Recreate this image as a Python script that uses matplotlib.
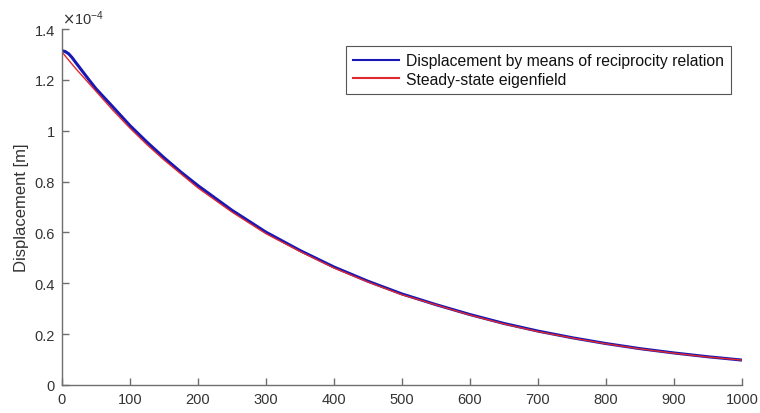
import matplotlib.pyplot as plt
from matplotlib.ticker import FuncFormatter

plt.rcParams['font.family'] = ['Liberation Sans', 'DejaVu Sans']

# distance along the line
x = [0, 5, 10, 15, 20, 30, 40, 50, 75, 100, 125, 150, 175, 200, 250, 300, 350,
     400, 450, 500, 550, 600, 650, 700, 750, 800, 850, 900, 950, 1000]

# displacement [1e-4 m], reciprocity relation
u_recip = [1.315, 1.311, 1.302, 1.287, 1.269, 1.234, 1.199, 1.165, 1.093, 1.02,
           0.955, 0.894, 0.837, 0.784, 0.687, 0.601, 0.529, 0.464, 0.408, 0.358,
           0.316, 0.277, 0.242, 0.212, 0.186, 0.163, 0.143, 0.126, 0.111, 0.098]

# displacement [1e-4 m], steady-state eigenfield
u_eigen = [1.31, 1.293, 1.277, 1.261, 1.245, 1.215, 1.185, 1.155, 1.08, 1.01,
           0.945, 0.885, 0.83, 0.775, 0.68, 0.595, 0.525, 0.46, 0.405, 0.355,
           0.315, 0.275, 0.24, 0.21, 0.185, 0.162, 0.142, 0.125, 0.11, 0.098]

scale = 1e-4
x_ticks = list(range(0, 1001, 100))
y_ticks = [0, 0.2, 0.4, 0.6, 0.8, 1.0, 1.2, 1.4]

axcol = '#6e6e6e'
txtcol = '#333333'

fig = plt.figure(figsize=(7.6, 4.14), dpi=100)
ax = fig.add_axes([62/760, 28/414, 680/760, 356/414])

ax.plot(x, [v*scale for v in u_recip], color='#1818b4', lw=2.2,
        label='Displacement by means of reciprocity relation')
ax.plot(x, [v*scale for v in u_eigen], color='#e0282e', lw=1.0,
        label='Steady-state eigenfield')

ax.set_xlim(0, 1000)
ax.set_ylim(0, 1.4*scale)
ax.set_xticks(x_ticks)
ax.set_yticks([t*scale for t in y_ticks])
ax.yaxis.set_major_formatter(FuncFormatter(lambda v, p: '%g' % round(v/scale, 6)))

for s in ['top', 'right']:
    ax.spines[s].set_visible(False)
for s in ['left', 'bottom']:
    ax.spines[s].set_color(axcol)
    ax.spines[s].set_linewidth(1.0)
ax.tick_params(direction='in', length=5, width=1.0, color=axcol,
               labelsize=10.5, labelcolor=txtcol, pad=5)

ax.set_ylabel('Displacement [m]', fontsize=12, color=txtcol, labelpad=4)
ax.text(0.0, 1.005, r'$\times\mathregular{10^{-4}}$', transform=ax.transAxes,
        fontsize=10.5, color=txtcol, ha='left', va='bottom')

leg = ax.legend(loc='upper right', bbox_to_anchor=(0.984, 0.952),
                borderaxespad=0, fontsize=11.3, handlelength=2.9,
                handletextpad=0.45, fancybox=False, framealpha=1,
                edgecolor='#555555', borderpad=0.45, labelspacing=0.22)
leg.get_frame().set_linewidth(0.8)
for h in leg.get_lines():
    h.set_linewidth(1.5)
for t in leg.get_texts():
    t.set_color('#111111')

fig.savefig('out.png', dpi=100)
